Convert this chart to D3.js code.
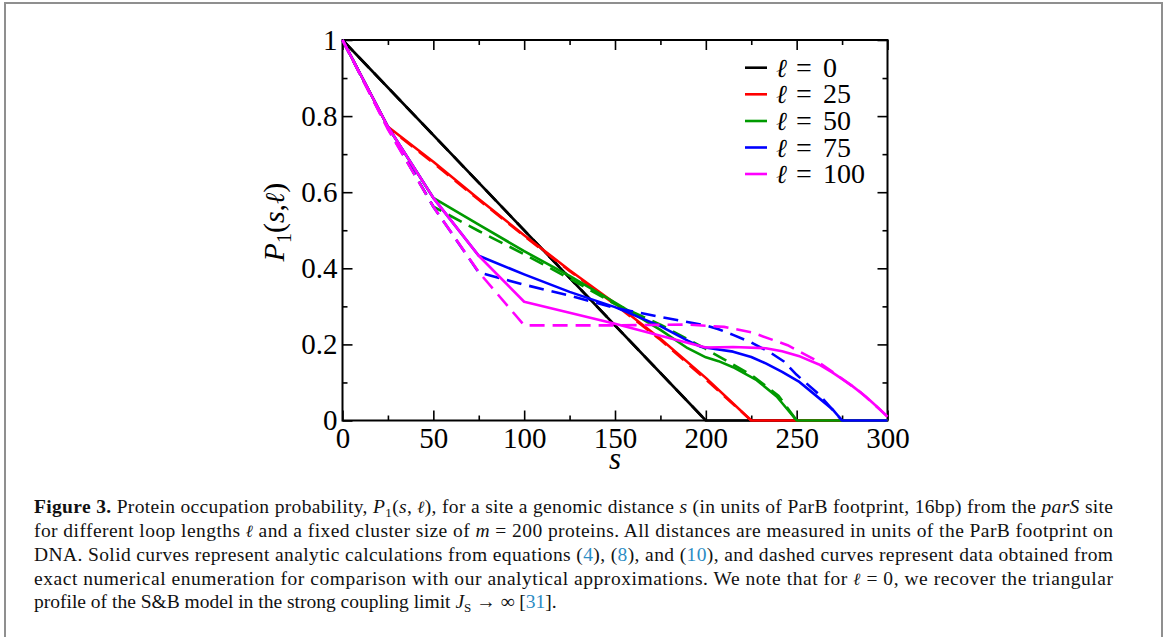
<!DOCTYPE html>
<html>
<head>
<meta charset="utf-8">
<script src="https://cdn.jsdelivr.net/npm/d3@7"></script>
<style>
  html, body { margin: 0; padding: 0; background: #fff; }
  svg { display: block; }
  text { font-family: "Liberation Serif", "Times New Roman", serif; }
  .ell { font-family: "DejaVu Serif", serif; font-style: italic; }
</style>
</head>
<body>
<svg id="chart" width="1165" height="637" font-family="Liberation Serif, serif"></svg>
<script>
// ---------------- data ----------------
const loopLengths = [0, 25, 50, 75, 100];
const seriesColors = ["#000000", "#ff0000", "#009a00", "#0000ff", "#ff00ff"];
const xTickValues = [0, 50, 100, 150, 200, 250, 300];
const xMinorTicks = [25, 75, 125, 175, 225, 275];
const yTickValues = [0, 0.2, 0.4, 0.6, 0.8, 1];
const yMinorTicks = [0.1, 0.3, 0.5, 0.7, 0.9];

// analytic (solid) curves: [s, P1]
const solidL0   = [[0,1],[200,0],[300,0]];
const solidL25  = [[0,1],[25,0.772],[50,0.68],[75,0.582],[100,0.487],[125,0.395],[150,0.308],[175,0.215],[200,0.112],[225,0],[300,0]];
const solidL50  = [[0,1],[25,0.772],[50,0.585],[75,0.515],[100,0.445],[125,0.38],[150,0.31],[175,0.238],[190,0.19],[200,0.166],[207,0.156],[215,0.14],[228,0.106],[239,0.063],[250,0],[300,0]];
const solidL75  = [[0,1],[25,0.772],[50,0.585],[75,0.433],[100,0.384],[125,0.338],[150,0.298],[175,0.248],[190,0.21],[197,0.194],[205,0.188],[215,0.181],[225,0.167],[233,0.15],[242,0.128],[251,0.103],[260,0.068],[270,0.028],[275,0],[300,0]];
const solidL100 = [[0,1],[25,0.772],[50,0.585],[75,0.433],[100,0.312],[125,0.283],[150,0.254],[175,0.223],[200,0.192],[215,0.193],[233,0.19],[242,0.182],[252,0.168],[262,0.148],[270,0.125],[280,0.093],[288,0.063],[295,0.033],[300,0.01]];

// numerical enumeration (dashed) curves: [s, P1]
const dashedL0   = [[0,1],[200,0]];
const dashedL25  = [[0,1],[25,0.77],[50,0.677],[75,0.58],[100,0.485],[125,0.393],[150,0.305],[175,0.212],[200,0.108],[225,0]];
const dashedL50  = [[0,1],[25,0.768],[50,0.562],[75,0.498],[100,0.437],[125,0.373],[150,0.306],[175,0.252],[200,0.188],[212,0.155],[225,0.12],[240,0.065],[250,0]];
const dashedL75  = [[0,1],[25,0.768],[50,0.562],[75,0.389],[100,0.357],[125,0.328],[150,0.296],[175,0.272],[200,0.25],[207,0.24],[215,0.225],[225,0.205],[235,0.18],[243,0.155],[250,0.12],[262,0.07],[275,0]];
const dashedL100 = [[0,1],[25,0.765],[50,0.562],[75,0.39],[100,0.25],[150,0.25],[190,0.252],[210,0.246],[225,0.232],[245,0.198],[260,0.16],[272,0.12],[285,0.075],[296,0.028],[300,0.01]];

const solidSeries  = [solidL0, solidL25, solidL50, solidL75, solidL100];
const dashedSeries = [dashedL0, dashedL25, dashedL50, dashedL75, dashedL100];

// ---------------- layout ----------------
const svg = d3.select("#chart");
const plot = { left: 342.5, right: 887.5, top: 40, bottom: 420.5 };

// page border
svg.append("rect")
  .attr("x", 5).attr("y", 3).attr("width", 1157).attr("height", 660)
  .attr("fill", "none").attr("stroke", "#8f8f8f").attr("stroke-width", 2);

const x = d3.scaleLinear().domain([0, 300]).range([plot.left, plot.right]);
const y = d3.scaleLinear().domain([0, 1]).range([plot.bottom, plot.top]);

// frame (drawn below the curves)
svg.append("rect")
  .attr("x", plot.left).attr("y", plot.top)
  .attr("width", plot.right - plot.left).attr("height", plot.bottom - plot.top)
  .attr("fill", "none").attr("stroke", "#000").attr("stroke-width", 2);

// axes
const tickFont = "29px";
function styleAxis(g) {
  g.select(".domain").remove();
  g.selectAll(".tick line").attr("stroke", "#000").attr("stroke-width", 1.6);
  g.selectAll(".tick text").attr("fill", "#000").style("font-size", tickFont)
    .style("font-family", '"Liberation Serif", serif');
}
svg.append("g").attr("transform", `translate(0,${plot.bottom})`)
  .call(d3.axisBottom(x).tickValues(xTickValues).tickSize(-10).tickPadding(7).tickFormat(d3.format("d")))
  .call(styleAxis);
svg.append("g").attr("transform", `translate(0,${plot.bottom})`)
  .call(d3.axisBottom(x).tickValues(xMinorTicks).tickSize(-5).tickFormat(""))
  .call(styleAxis);
svg.append("g").attr("transform", `translate(0,${plot.top})`)
  .call(d3.axisTop(x).tickValues(xTickValues).tickSize(-10).tickFormat(""))
  .call(styleAxis);
svg.append("g").attr("transform", `translate(0,${plot.top})`)
  .call(d3.axisTop(x).tickValues(xMinorTicks).tickSize(-5).tickFormat(""))
  .call(styleAxis);
svg.append("g").attr("transform", `translate(${plot.left},0)`)
  .call(d3.axisLeft(y).tickValues(yTickValues).tickSize(-10).tickPadding(5).tickFormat(d3.format("")))
  .call(styleAxis);
svg.append("g").attr("transform", `translate(${plot.left},0)`)
  .call(d3.axisLeft(y).tickValues(yMinorTicks).tickSize(-5).tickFormat(""))
  .call(styleAxis);
svg.append("g").attr("transform", `translate(${plot.right},0)`)
  .call(d3.axisRight(y).tickValues(yTickValues).tickSize(-10).tickFormat(""))
  .call(styleAxis);
svg.append("g").attr("transform", `translate(${plot.right},0)`)
  .call(d3.axisRight(y).tickValues(yMinorTicks).tickSize(-5).tickFormat(""))
  .call(styleAxis);

// curves
const line = d3.line().x(d => x(d[0])).y(d => y(d[1]));
const curves = svg.append("g").attr("fill", "none").attr("stroke-linejoin", "round");
loopLengths.forEach((L, i) => {
  curves.append("path").datum(dashedSeries[i])
    .attr("d", line).attr("stroke", seriesColors[i])
    .attr("stroke-width", 2.6).attr("stroke-dasharray", "15,8");
  curves.append("path").datum(solidSeries[i])
    .attr("d", line).attr("stroke", seriesColors[i])
    .attr("stroke-width", 2.6);
});

// axis titles
svg.append("text")
  .attr("x", (plot.left + plot.right) / 2).attr("y", 469)
  .attr("text-anchor", "middle").style("font-size", "31px").style("font-style", "italic")
  .text("s");

const yt = svg.append("text")
  .attr("transform", "translate(284,222) rotate(-90)")
  .attr("text-anchor", "middle").style("font-size", "30px");
yt.append("tspan").style("font-style", "italic").text("P");
yt.append("tspan").style("font-size", "20px").attr("dy", 7).text("1");
yt.append("tspan").attr("dy", -7).text("(");
yt.append("tspan").style("font-style", "italic").text("s");
yt.append("tspan").text(",");
yt.append("tspan").attr("class", "ell").style("font-size", "27px").text("ℓ");
yt.append("tspan").text(")");

// legend
const legendRowY = [67.7, 94.3, 121, 147.5, 174];
const legend = svg.append("g");
loopLengths.forEach((L, i) => {
  const ry = legendRowY[i];
  legend.append("line")
    .attr("x1", 745).attr("x2", 767).attr("y1", ry).attr("y2", ry)
    .attr("stroke", seriesColors[i]).attr("stroke-width", 2.6);
  const t = legend.append("text").attr("y", ry + 9).style("font-size", "28px");
  t.append("tspan").attr("x", 776).attr("class", "ell").style("font-size", "26px").text("ℓ");
  t.append("tspan").attr("x", 796).text("=");
  t.append("tspan").attr("x", 823).text(String(L));
});

// caption
const capLeft = 34, capRight = 1113;
const capY = [513, 537, 561, 584.5, 608];
const linkColor = "#2b8cc4";
const captionLines = [
  [["Figure 3.", "b"], [" Protein occupation probability, "], ["P", "i"], ["1", "sub"], ["("], ["s", "i"], [", "], ["ℓ", "ell"], ["), for a site a genomic distance "], ["s", "i"], [" (in units of ParB footprint, 16bp) from the "], ["parS", "i"], [" site"]],
  [["for different loop lengths "], ["ℓ", "ell"], [" and a fixed cluster size of "], ["m", "i"], [" = 200 proteins. All distances are measured in units of the ParB footprint on"]],
  [["DNA. Solid curves represent analytic calculations from equations ("], ["4", "link"], ["), ("], ["8", "link"], ["), and ("], ["10", "link"], ["), and dashed curves represent data obtained from"]],
  [["exact numerical enumeration for comparison with our analytical approximations. We note that for "], ["ℓ", "ell"], [" = 0, we recover the triangular"]],
  [["profile of the S&B model in the strong coupling limit "], ["J", "i"], ["S", "sub"], [" → ∞ ["], ["31", "link"], ["]."]]
];
captionLines.forEach((parts, li) => {
  const t = svg.append("text").attr("x", capLeft).attr("y", capY[li])
    .style("font-size", "19.5px").attr("fill", "#111");
  if (li < 4) t.attr("textLength", capRight - capLeft).attr("lengthAdjust", "spacing");
  let shifted = false;
  parts.forEach(([s, st]) => {
    const ts = t.append("tspan").text(s);
    if (st === "b") ts.style("font-weight", "bold");
    if (st === "i") ts.style("font-style", "italic");
    if (st === "ell") ts.attr("class", "ell").style("font-size", "17px");
    if (st === "link") ts.attr("fill", linkColor);
    if (st === "sub") { ts.style("font-size", "13px").attr("dy", 4); shifted = true; }
    else if (shifted) { ts.attr("dy", -4); shifted = false; }
  });
});
</script>
</body>
</html>
